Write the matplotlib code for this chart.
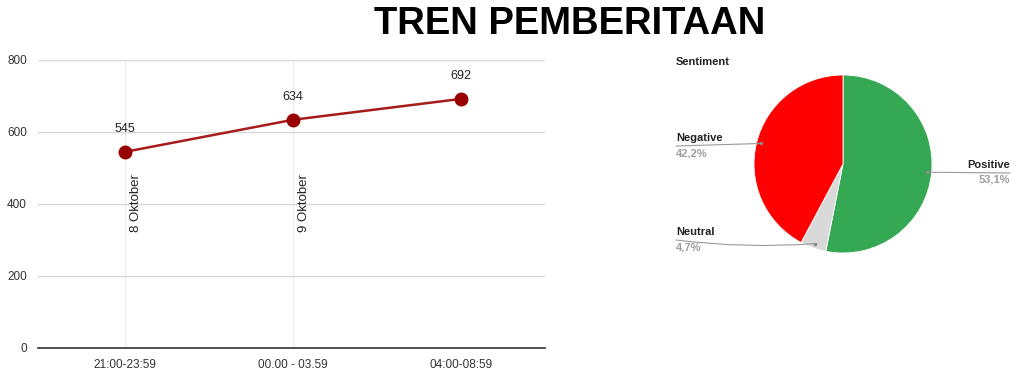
import numpy as np
import matplotlib.pyplot as plt

plt.rcParams['font.family'] = ['Liberation Sans', 'DejaVu Sans']

# line chart data
slots = ['21:00-23:59', '00.00 - 03.59', '04:00-08:59']
counts = [545, 634, 692]
day_notes = ['8 Oktober', '9 Oktober']

# pie chart data
sentiments = ['Positive', 'Neutral', 'Negative']
shares = [53.1, 4.7, 42.2]
pie_colors = ['#34a853', '#d9d9d9', '#ff0000']

W, H = 1024, 386
fig = plt.figure(figsize=(W / 100, H / 100), dpi=100)

fig.text(570 / W, 1 - 24 / H, 'TREN PEMBERITAAN', ha='center', va='center',
         fontsize=27.5, fontweight='bold', color='black')

# line chart
ax = fig.add_axes([38 / W, 1 - 348 / H, 507 / W, 288 / H])
x = np.arange(len(slots))
ax.set_xlim(-0.52, 2.5)
ax.set_ylim(0, 800)
ax.set_yticks([0, 200, 400, 600, 800])
ax.grid(axis='y', color='#d9d9d9', linewidth=1)
ax.set_axisbelow(True)
for i, note in enumerate(day_notes):
    ax.axvline(i, color='#ececec', linewidth=1, zorder=0)
    ax.text(i + 0.03, 482, note, rotation=90, ha='left', va='top',
            fontsize=9.5, color='#222222')
ax.plot(x, counts, color='#a61c1c', linewidth=1.8, marker='o', markersize=9,
        markerfacecolor='#990000', markeredgecolor='#990000')
for xi, v in zip(x, counts):
    ax.annotate(str(v), (xi, v), xytext=(0, 23), textcoords='offset pixels',
                ha='center', va='center', fontsize=9, color='#222222')
ax.set_xticks(x)
ax.set_xticklabels(slots)
ax.tick_params(length=0, labelsize=8.5, colors='#333333', pad=8)
for s in ['top', 'right', 'left']:
    ax.spines[s].set_visible(False)
ax.spines['bottom'].set_color('#333333')
ax.spines['bottom'].set_linewidth(1.2)

# pie chart
pax = fig.add_axes([754 / W, 1 - 253 / H, 178 / W, 178 / H])
wedges, _ = pax.pie(shares, colors=pie_colors, startangle=90, counterclock=False,
                    wedgeprops=dict(linewidth=0.6, edgecolor='white'))
pax.set_xlim(-1, 1)
pax.set_ylim(-1, 1)
pax.set_aspect('equal')

fig.text(676 / W, 1 - 62 / H, 'Sentiment', ha='left', va='center',
         fontsize=8, fontweight='bold', color='#222222')

# label placement: (line end x, line y, alignment) in figure pixels from top
label_pos = {'Positive': (1010, 173, 'right'),
             'Negative': (676, 146, 'left'),
             'Neutral': (676, 240, 'left')}
for w, name, share in zip(wedges, sentiments, shares):
    ang = np.deg2rad((w.theta1 + w.theta2) / 2)
    px, py = 0.95 * np.cos(ang), 0.95 * np.sin(ang)
    lx, ly, ha = label_pos[name]
    style = 'arc3,rad=0.05' if name == 'Neutral' else 'arc3'
    pax.annotate('', (px, py), xycoords='data',
                 xytext=(lx / W, 1 - ly / H), textcoords='figure fraction',
                 arrowprops=dict(arrowstyle='-', color='#999999', lw=0.8,
                                 connectionstyle=style, shrinkA=0, shrinkB=0),
                 annotation_clip=False)
    pax.plot([px], [py], marker='o', markersize=1.5, color='#888888')
    fig.text(lx / W, 1 - (ly - 8) / H, name, ha=ha, va='center', fontsize=8,
             fontweight='bold', color='#222222')
    fig.text(lx / W, 1 - (ly + 7) / H, f'{share:.1f}%'.replace('.', ','), ha=ha,
             va='center', fontsize=8, fontweight='bold', color='#9e9e9e')

fig.savefig('out.png', dpi=100)
